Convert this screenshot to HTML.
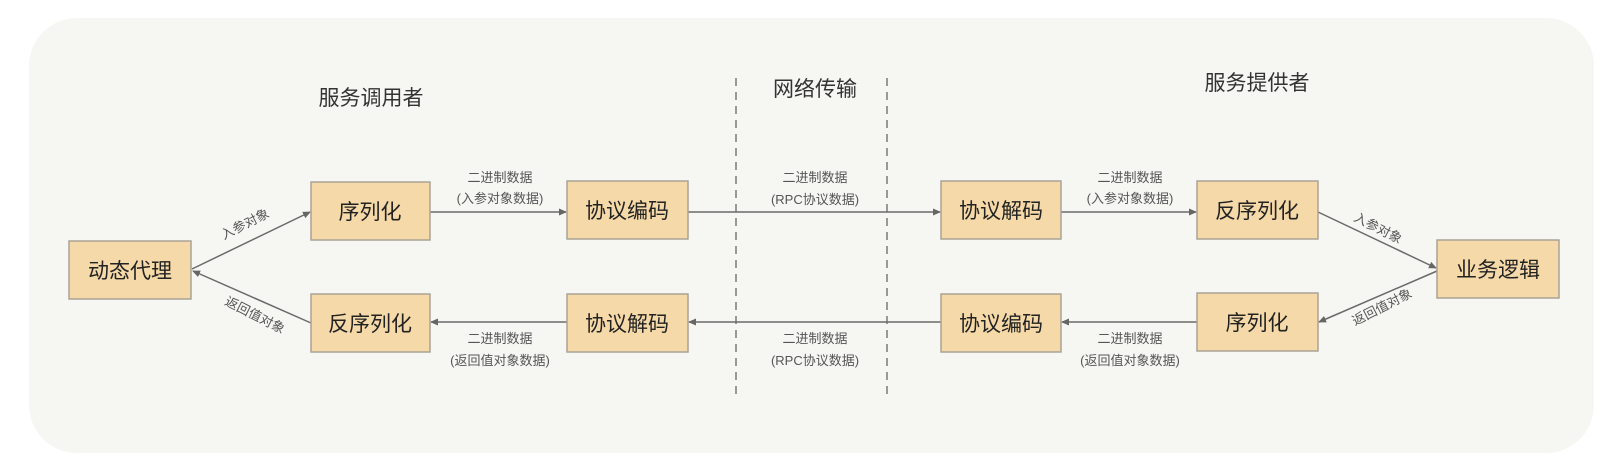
<!DOCTYPE html>
<html><head><meta charset="utf-8"><style>
html,body{margin:0;padding:0;background:#fff;}
svg{display:block;font-family:"Liberation Sans","Noto Sans CJK SC",sans-serif;}
</style></head><body>
<svg width="1624" height="470" viewBox="0 0 1624 470" xmlns="http://www.w3.org/2000/svg">
<defs>
<marker id="a" markerWidth="8" markerHeight="8" refX="7" refY="4" orient="auto" markerUnits="userSpaceOnUse">
<path d="M0,0.5 L8,4 L0,7.5 Z" fill="#666"/></marker>
</defs>
<rect x="29" y="18" width="1565" height="435" rx="48" fill="#f6f6f2"/>
<g fill="#333" font-size="21" text-anchor="middle">
<text x="371" y="105">服务调用者</text>
<text x="815" y="96">网络传输</text>
<text x="1257" y="90">服务提供者</text>
</g>
<g stroke="#666" stroke-width="1.3" stroke-dasharray="8,6">
<line x1="736" y1="78" x2="736" y2="394"/>
<line x1="887" y1="78" x2="887" y2="394"/>
</g>
<g stroke="#6a6a6a" stroke-width="1.5" fill="none" marker-end="url(#a)">
<line x1="430" y1="212" x2="566" y2="212"/>
<line x1="688" y1="212" x2="940" y2="212"/>
<line x1="1061" y1="212" x2="1196" y2="212"/>
<line x1="567" y1="322" x2="431" y2="322"/>
<line x1="941" y1="322" x2="689" y2="322"/>
<line x1="1197" y1="322" x2="1062" y2="322"/>
<line x1="192" y1="269" x2="310" y2="212"/>
<line x1="311" y1="323" x2="193" y2="271"/>
<line x1="1318" y1="212" x2="1436" y2="268"/>
<line x1="1437" y1="271" x2="1319" y2="322"/>
</g>
<g fill="#f5d9a8" stroke="#a9a396" stroke-width="1.5">
<rect x="69" y="241" width="122" height="58"/>
<rect x="311" y="182" width="119" height="58"/>
<rect x="567" y="181" width="121" height="58"/>
<rect x="311" y="294" width="119" height="58"/>
<rect x="567" y="294" width="121" height="58"/>
<rect x="941" y="181" width="120" height="58"/>
<rect x="1197" y="181" width="121" height="58"/>
<rect x="1437" y="240" width="122" height="58"/>
<rect x="1197" y="293" width="121" height="58"/>
<rect x="941" y="294" width="120" height="58"/>
</g>
<g fill="#222" font-size="21" text-anchor="middle">
<text x="130" y="278">动态代理</text>
<text x="370" y="219">序列化</text>
<text x="627" y="218">协议编码</text>
<text x="370" y="331">反序列化</text>
<text x="627" y="331">协议解码</text>
<text x="1001" y="218">协议解码</text>
<text x="1257" y="218">反序列化</text>
<text x="1498" y="277">业务逻辑</text>
<text x="1257" y="330">序列化</text>
<text x="1001" y="331">协议编码</text>
</g>
<g fill="#555" font-size="13" text-anchor="middle">
<text x="500" y="182">二进制数据</text>
<text x="500" y="203">(入参对象数据)</text>
<text x="815" y="182">二进制数据</text>
<text x="815" y="204">(RPC协议数据)</text>
<text x="1130" y="182">二进制数据</text>
<text x="1130" y="203">(入参对象数据)</text>
<text x="500" y="343">二进制数据</text>
<text x="500" y="365">(返回值对象数据)</text>
<text x="815" y="343">二进制数据</text>
<text x="815" y="365">(RPC协议数据)</text>
<text x="1130" y="343">二进制数据</text>
<text x="1130" y="365">(返回值对象数据)</text>
<text transform="translate(247,228) rotate(-27)">入参对象</text>
<text transform="translate(253,319) rotate(27)">返回值对象</text>
<text transform="translate(1376,232) rotate(27)">入参对象</text>
<text transform="translate(1384,311) rotate(-27)">返回值对象</text>
</g>
</svg>
</body></html>
